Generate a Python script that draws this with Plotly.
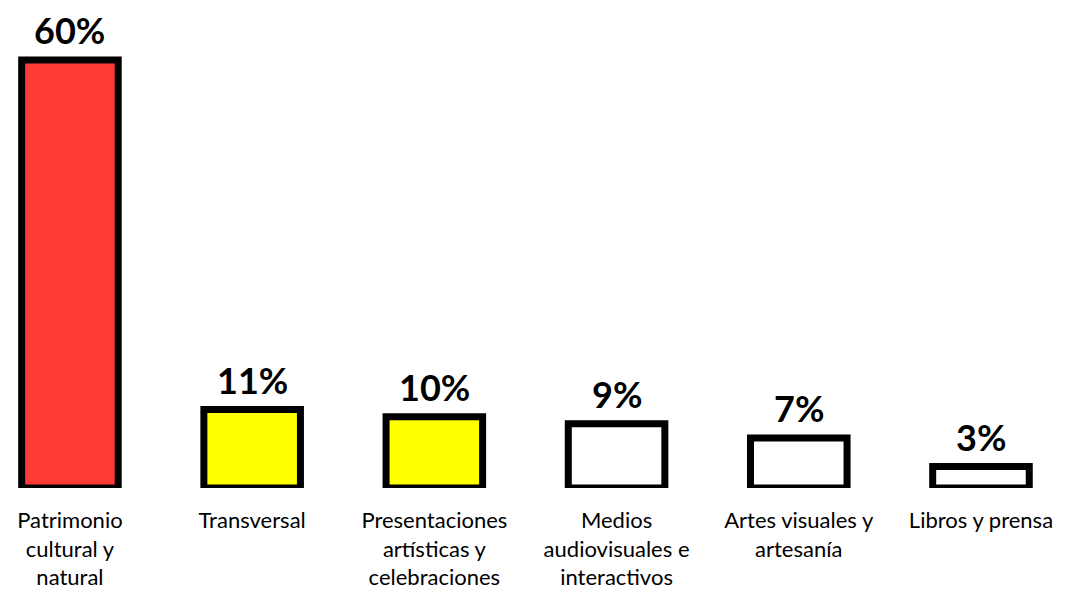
import plotly.graph_objects as go

categories = ["Patrimonio<br>cultural y<br>natural", "Transversal",
              "Presentaciones<br>artísticas y<br>celebraciones",
              "Medios<br>audiovisuales e<br>interactivos",
              "Artes visuales y<br>artesanía", "Libros y prensa"]
values = [60, 11, 10, 9, 7, 3]
labels = ["60%", "11%", "10%", "9%", "7%", "3%"]
colors = ["#FF3B36", "#FFFF00", "#FFFF00", "#FFFFFF", "#FFFFFF", "#FFFFFF"]

FONT = "Century Gothic, Lato, DejaVu Sans, sans-serif"
xs = list(range(len(categories)))

fig = go.Figure(go.Bar(
    x=xs, y=values,
    width=0.53,
    marker=dict(color=colors, line=dict(color="black", width=7)),
    cliponaxis=False,
    hoverinfo="skip",
))

for xi, v, lab in zip(xs, values, labels):
    fig.add_annotation(x=xi, y=v, text="<b>%s</b>" % lab, showarrow=False,
                       yanchor="bottom", yshift=7, borderpad=0,
                       font=dict(family=FONT, size=36, color="black"))

fig.update_layout(
    width=1073, height=592,
    margin=dict(l=0, r=0, t=0, b=112),
    paper_bgcolor="white", plot_bgcolor="white",
    showlegend=False,
    xaxis=dict(range=[-0.340, 5.549], tickmode="array",
               tickvals=xs, ticktext=categories,
               showgrid=False, zeroline=False, showline=False, ticks="",
               ticklabelstandoff=17,
               tickfont=dict(family=FONT, size=22, color="black")),
    yaxis=dict(range=[0, 67.3], visible=False, showgrid=False, zeroline=False),
)

fig.write_html("out.html")
